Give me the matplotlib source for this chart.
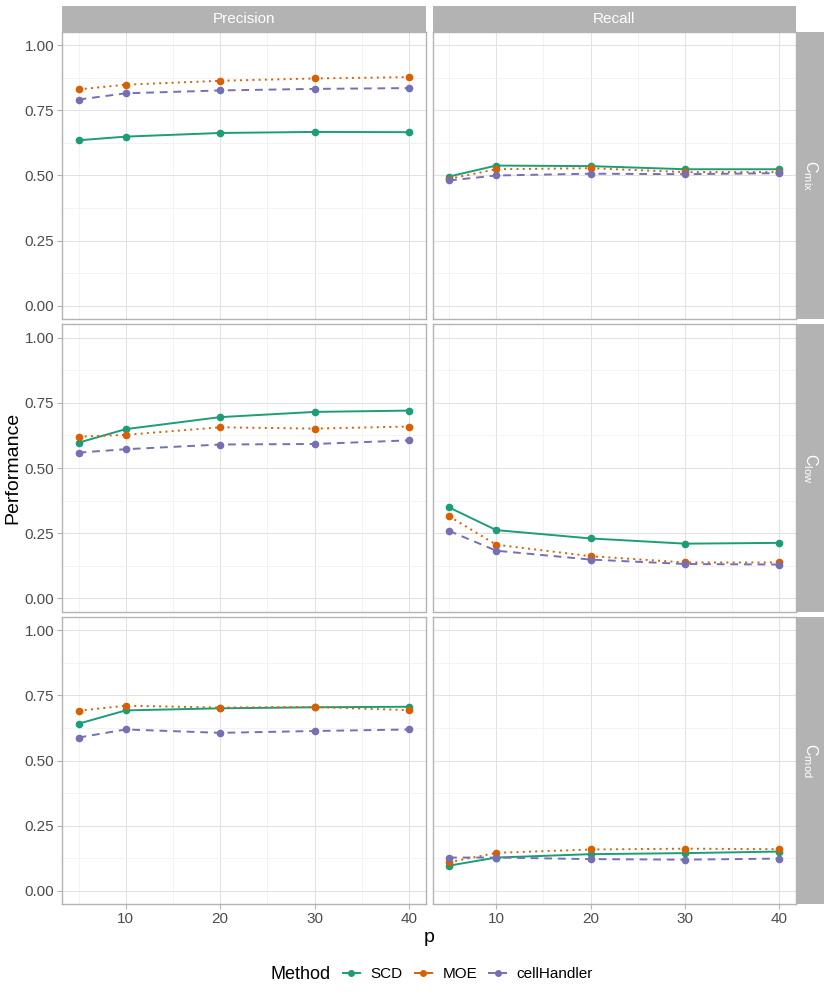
import matplotlib
matplotlib.use('Agg')
import matplotlib.pyplot as plt
from matplotlib.lines import Line2D

plt.rcParams['font.family'] = ['Liberation Sans', 'DejaVu Sans']
plt.rcParams['mathtext.fontset'] = 'custom'
plt.rcParams['mathtext.rm'] = 'Liberation Sans'
plt.rcParams['mathtext.it'] = 'Liberation Sans'

# data
p = [5, 10, 20, 30, 40]
methods = ['SCD', 'MOE', 'cellHandler']
metrics = ['Precision', 'Recall']
settings = [r'$\mathregular{C_{mix}}$', r'$\mathregular{C_{low}}$', r'$\mathregular{C_{mod}}$']

scd_precision_mix = [0.635, 0.649, 0.663, 0.667, 0.666]
moe_precision_mix = [0.830, 0.848, 0.863, 0.872, 0.877]
ch_precision_mix = [0.791, 0.815, 0.826, 0.832, 0.835]
scd_recall_mix = [0.496, 0.538, 0.536, 0.524, 0.524]
moe_recall_mix = [0.487, 0.524, 0.528, 0.513, 0.513]
ch_recall_mix = [0.481, 0.500, 0.507, 0.505, 0.509]

scd_precision_low = [0.597, 0.649, 0.695, 0.715, 0.720]
moe_precision_low = [0.620, 0.627, 0.656, 0.651, 0.659]
ch_precision_low = [0.559, 0.572, 0.590, 0.592, 0.606]
scd_recall_low = [0.349, 0.262, 0.230, 0.210, 0.213]
moe_recall_low = [0.315, 0.206, 0.162, 0.138, 0.138]
ch_recall_low = [0.259, 0.183, 0.149, 0.132, 0.130]

scd_precision_mod = [0.641, 0.692, 0.700, 0.704, 0.706]
moe_precision_mod = [0.691, 0.710, 0.703, 0.705, 0.693]
ch_precision_mod = [0.588, 0.619, 0.606, 0.613, 0.619]
scd_recall_mod = [0.097, 0.128, 0.141, 0.145, 0.151]
moe_recall_mod = [0.110, 0.146, 0.159, 0.162, 0.160]
ch_recall_mod = [0.128, 0.128, 0.122, 0.120, 0.124]

panels = [
    [[scd_precision_mix, moe_precision_mix, ch_precision_mix],
     [scd_recall_mix, moe_recall_mix, ch_recall_mix]],
    [[scd_precision_low, moe_precision_low, ch_precision_low],
     [scd_recall_low, moe_recall_low, ch_recall_low]],
    [[scd_precision_mod, moe_precision_mod, ch_precision_mod],
     [scd_recall_mod, moe_recall_mod, ch_recall_mod]],
]

colors = ['#1B9E77', '#D95F02', '#7570B3']
dashes = [None, (1, 2.2), (4, 3)]

W, H = 830, 997
fig = plt.figure(figsize=(W / 100, H / 100), dpi=100)

cols_px = [(62, 425.5), (432.5, 796)]
rows_px = [(32, 319), (324.5, 611.5), (617, 904)]
strip_grey = '#B3B3B3'


def box(x0, y0, x1, y1):
    return [x0 / W, 1 - y1 / H, (x1 - x0) / W, (y1 - y0) / H]


for i, (y0, y1) in enumerate(rows_px):
    for j, (x0, x1) in enumerate(cols_px):
        ax = fig.add_axes(box(x0, y0, x1, y1))
        for k in range(3):
            line, = ax.plot(p, panels[i][j][k], color=colors[k], lw=1.4,
                            marker='o', ms=4.5, zorder=3)
            if dashes[k] is not None:
                line.set_dashes(dashes[k])
        ax.set_xlim(3.25, 41.75)
        ax.set_ylim(-0.05, 1.05)
        ax.set_xticks([10, 20, 30, 40])
        ax.set_xticks([5, 15, 25, 35], minor=True)
        ax.set_yticks([0, 0.25, 0.5, 0.75, 1.0])
        ax.set_yticks([0.125, 0.375, 0.625, 0.875], minor=True)
        ax.grid(which='major', color='#E2E2E2', lw=0.75)
        ax.grid(which='minor', color='#EFEFEF', lw=0.5)
        ax.set_axisbelow(True)
        for s in ax.spines.values():
            s.set_color(strip_grey)
            s.set_linewidth(1.0)
        ax.tick_params(which='major', length=3.5, color=strip_grey,
                       labelcolor='#4D4D4D', labelsize=11, pad=2)
        ax.tick_params(which='minor', length=0)
        if j == 0:
            ax.set_yticklabels(['0.00', '0.25', '0.50', '0.75', '1.00'])
        else:
            ax.tick_params(axis='y', labelleft=False, length=0)
        if i < 2:
            ax.tick_params(axis='x', labelbottom=False, length=0)

        if i == 0:
            sax = fig.add_axes(box(x0, 6, x1, 31.7))
            sax.set_facecolor(strip_grey)
            sax.set_xticks([])
            sax.set_yticks([])
            for s in sax.spines.values():
                s.set_visible(False)
            sax.text(0.5, 0.5, metrics[j], color='white', fontsize=11,
                     ha='center', va='center', transform=sax.transAxes)
    rax = fig.add_axes(box(796.5, y0, 824, y1))
    rax.set_facecolor(strip_grey)
    rax.set_xticks([])
    rax.set_yticks([])
    for s in rax.spines.values():
        s.set_visible(False)
    rax.text(0.5, 0.5, settings[i], color='white', fontsize=11.5, rotation=-90,
             ha='center', va='center', transform=rax.transAxes)

fig.text(13 / W, 1 - 468 / H, 'Performance', rotation=90, fontsize=14,
         ha='center', va='center')
fig.text(429 / W, 1 - 937 / H, 'p', fontsize=14, ha='center', va='center')

handles = []
for k in range(3):
    h = Line2D([], [], color=colors[k], lw=1.4, marker='o', ms=4)
    handles.append(h)
fig.text(271 / W, 1 - 974 / H, 'Method', fontsize=13, ha='left', va='center')
fig.legend(handles, methods, loc='center left',
           bbox_to_anchor=(343 / W, 1 - 974 / H), ncol=3, frameon=False,
           fontsize=11, handlelength=1.1, handletextpad=0.7,
           columnspacing=0.8, borderpad=0, borderaxespad=0)

fig.savefig('out.png', dpi=100)
